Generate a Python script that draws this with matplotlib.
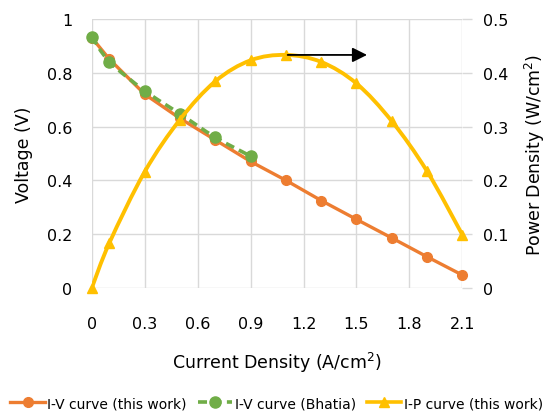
import numpy as np
import matplotlib
matplotlib.use("Agg")
import matplotlib.pyplot as plt
from matplotlib.path import Path
from matplotlib.patches import PathPatch
from matplotlib.lines import Line2D

plt.rcParams['font.family'] = ['DejaVu Sans']

# Data
current_this = [0, 0.1, 0.3, 0.5, 0.7, 0.9, 1.1, 1.3, 1.5, 1.7, 1.9, 2.1]
voltage_this = [0.93, 0.85, 0.72, 0.63, 0.55, 0.47, 0.40, 0.325, 0.255, 0.186, 0.116, 0.048]
current_bhatia = [0, 0.1, 0.3, 0.5, 0.7, 0.9]
voltage_bhatia = [0.934, 0.841, 0.733, 0.647, 0.56, 0.49]
power_this = [0, 0.084, 0.216, 0.313, 0.384, 0.423, 0.433, 0.42, 0.38, 0.31, 0.217, 0.099]

x_ticks = [0, 0.3, 0.6, 0.9, 1.2, 1.5, 1.8, 2.1]
y_left_ticks = [0, 0.2, 0.4, 0.6, 0.8, 1]
y_right_ticks = [0, 0.1, 0.2, 0.3, 0.4, 0.5]

ORANGE = '#ED7D31'
GREEN = '#70AD47'
YELLOW = '#FFC000'
GRID = '#D9D9D9'


def smooth_path(xs, ys):
    xs = np.asarray(xs, float); ys = np.asarray(ys, float)
    verts = [(xs[0], ys[0])]
    codes = [Path.MOVETO]
    n = len(xs)
    for i in range(n - 1):
        p0 = np.array([xs[max(i - 1, 0)], ys[max(i - 1, 0)]])
        p1 = np.array([xs[i], ys[i]])
        p2 = np.array([xs[i + 1], ys[i + 1]])
        p3 = np.array([xs[min(i + 2, n - 1)], ys[min(i + 2, n - 1)]])
        c1 = p1 + (p2 - p0) / 6.0
        c2 = p2 - (p3 - p1) / 6.0
        verts += [tuple(c1), tuple(c2), tuple(p2)]
        codes += [Path.CURVE4] * 3
    return Path(verts, codes)


fig = plt.figure(figsize=(5.53, 4.14), dpi=100)
ax = fig.add_axes([0.166, 0.302, 0.67, 0.65])
ax2 = ax.twinx()

ax.set_xlim(0, 2.1)
ax.set_ylim(0, 1)
ax2.set_ylim(0, 0.5)

ax.set_xticks(x_ticks)
ax.set_xticklabels(['0', '0.3', '0.6', '0.9', '1.2', '1.5', '1.8', '2.1'])
ax.set_yticks(y_left_ticks)
ax.set_yticklabels(['0', '0.2', '0.4', '0.6', '0.8', '1'])
ax2.set_yticks(y_right_ticks)
ax2.set_yticklabels(['0', '0.1', '0.2', '0.3', '0.4', '0.5'])

ax.grid(True, color=GRID, linewidth=1.0)
ax.set_axisbelow(True)
for a in (ax, ax2):
    for s in a.spines.values():
        s.set_visible(False)
ax.tick_params(axis='x', length=0, pad=20, labelsize=11.5)
ax.tick_params(axis='y', length=0, pad=14, labelsize=11.5)
ax2.tick_params(axis='y', length=7, color=GRID, width=1.0, pad=8, labelsize=11.5)

# I-V this work
ax.plot(current_this, voltage_this, color=ORANGE, lw=2.4, marker='o', ms=7,
        clip_on=False, zorder=3, label='I-V curve (this work)')
# I-V Bhatia
ax.add_patch(PathPatch(smooth_path(current_bhatia, voltage_bhatia), fill=False,
                       edgecolor=GREEN, lw=2.6, linestyle=(0, (2.5, 1.5)), zorder=4))
ax.plot(current_bhatia, voltage_bhatia, color=GREEN, lw=0, marker='o', ms=8,
        clip_on=False, zorder=4)
# I-P this work
ax2.add_patch(PathPatch(smooth_path(current_this, power_this), fill=False,
                        edgecolor=YELLOW, lw=2.8, zorder=3))
ax2.plot(current_this, power_this, color=YELLOW, lw=0, marker='^', ms=7.5,
         clip_on=False, zorder=3)

# arrow
ax2.annotate('', xy=(1.56, power_this[6]), xytext=(1.11, power_this[6]),
             arrowprops=dict(arrowstyle='-|>', color='black', lw=1.3,
                             mutation_scale=22, shrinkA=0, shrinkB=0))

ax.set_xlabel('Current Density (A/cm$^2$)', fontsize=12.5, labelpad=14)
ax.set_ylabel('Voltage (V)', fontsize=12.5, labelpad=10)
ax2.set_ylabel('Power Density (W/cm$^2$)', fontsize=12.5, labelpad=10)

handles = [
    Line2D([], [], color=ORANGE, lw=2.4, marker='o', ms=7),
    Line2D([], [], color=GREEN, lw=2.6, ls=(0, (2.5, 1.5)), marker='o', ms=8),
    Line2D([], [], color=YELLOW, lw=2.6, marker='^', ms=7.5),
]
labels = ['I-V curve (this work)', 'I-V curve (Bhatia)', 'I-P curve (this work)']
fig.legend(handles, labels, loc='center', bbox_to_anchor=(0.5, 0.024), ncol=3,
           frameon=False, fontsize=10, handlelength=2.5, handletextpad=0.15,
           columnspacing=0.8, borderpad=0.1, borderaxespad=0.1)

fig.savefig('out.png', dpi=100)
